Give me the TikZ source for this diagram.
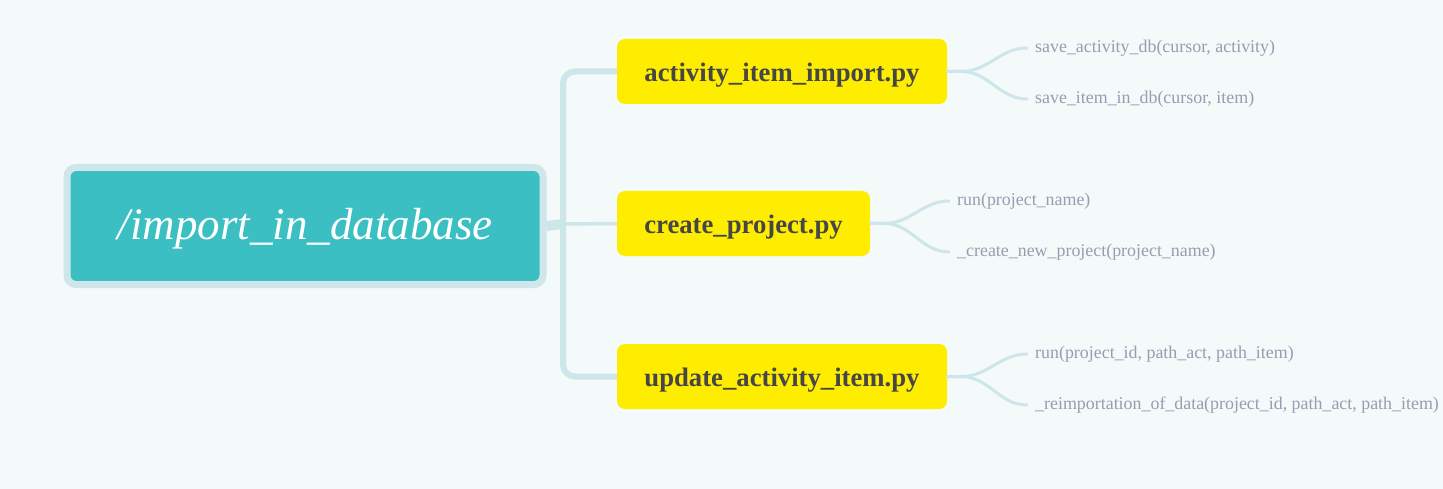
\documentclass[tikz,border=0pt]{standalone}
\usepackage{fontspec}
\setmainfont{Liberation Serif}
\definecolor{bgc}{HTML}{F4F9F9}
\definecolor{teal}{HTML}{3BBFC3}
\definecolor{rim}{HTML}{CFE6EA}
\definecolor{yel}{HTML}{FFED00}
\definecolor{dark}{HTML}{464646}
\definecolor{leafc}{HTML}{979DB2}
\definecolor{linec}{HTML}{CDE6EA}
\tikzset{
  rootbox/.style={draw=rim, line width=7pt, fill=teal, rounded corners=9pt,
    minimum width=476pt, minimum height=117pt, inner sep=0pt, text=white,
    text height=37pt, text depth=10pt,
    font=\fontsize{45}{54}\selectfont\itshape},
  filebox/.style={fill=yel, rounded corners=8pt, minimum height=65pt, inner sep=0pt,
    text height=23pt, text depth=3pt,
    text=dark, font=\fontsize{26.7}{31}\selectfont\bfseries},
  leaf/.style={anchor=west, inner xsep=8pt, inner ysep=0pt, text=leafc,
    font=\fontsize{17.9}{21}\selectfont},
  trunk/.style={draw=linec, line width=6pt, rounded corners=12pt},
  leafline/.style={draw=linec, line width=3pt, line cap=round},
}
\begin{document}
\begin{tikzpicture}[x=1pt,y=-1pt]
\fill[bgc] (0,0) rectangle (1443,489);
\useasboundingbox (0,0) rectangle (1443,489);
% nodes
\coordinate (j) at (563,224);
\node[filebox, minimum width=330pt] (a) at (782,71.5) {activity\_item\_import.py};
\node[filebox, minimum width=253pt] (b) at (743.5,223.5) {create\_project.py};
\node[filebox, minimum width=330pt] (c) at (782,376.5) {update\_activity\_item.py};
\draw[trunk] (a.west) -| (j) |- (c.west);
\draw[draw=linec, line width=3.5pt] (j) -- (b.west);
\node[rootbox] (root) at (305,226) {/import\_in\_database};
\draw[draw=linec, line width=10pt] (root.east) -- (j);
% leaves
\node[leaf] (a1) at (1027,48) {save\_activity\_db(cursor, activity)};
\node[leaf] (a2) at (1027,99) {save\_item\_in\_db(cursor, item)};
\node[leaf] (b1) at (949,201) {run(project\_name)};
\node[leaf] (b2) at (949,252) {\_create\_new\_project(project\_name)};
\node[leaf] (c1) at (1027,354) {run(project\_id, path\_act, path\_item)};
\node[leaf] (c2) at (1027,405) {\_reimportation\_of\_data(project\_id, path\_act, path\_item)};
\foreach \p/\q in {a/a1,a/a2,b/b1,b/b2,c/c1,c/c2}{
  \draw[leafline] (\p.east) -- ++(14,0) to[out=0,in=180] (\q.west);
}
\end{tikzpicture}
\end{document}
